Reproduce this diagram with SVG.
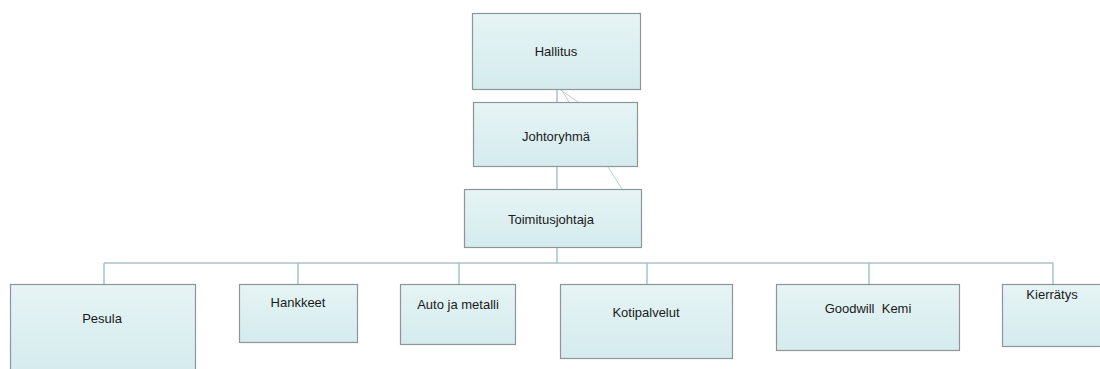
<svg xmlns="http://www.w3.org/2000/svg" width="1100" height="369" viewBox="0 0 1100 369">
<defs>
<linearGradient id="g" x1="0" y1="0" x2="0" y2="1">
<stop offset="0" stop-color="#e6f4f5"/>
<stop offset="1" stop-color="#d4ebed"/>
</linearGradient>
</defs>
<style>
.box{fill:url(#g);stroke:#8f9496;stroke-width:1.2}
.t{font-family:"Liberation Sans",Arial,sans-serif;font-size:13px;fill:#1a1a1a;text-anchor:middle}
.c{stroke:#a9c3c6;stroke-width:1.5;fill:none}
.cf{stroke:#bcd0d2;stroke-width:1;fill:none}
</style>
<rect width="1100" height="369" fill="#ffffff"/>
<g id="connectors">
<line class="c" x1="557" y1="89" x2="557" y2="102"/>
<line class="cf" x1="559" y1="89" x2="578" y2="102"/>
<line class="cf" x1="561" y1="89" x2="569" y2="102"/>
<line class="c" x1="557" y1="167" x2="557" y2="189"/>
<line class="cf" x1="608" y1="167" x2="622" y2="189"/>
<line class="c" x1="557" y1="248" x2="557" y2="263"/>
<line class="c" x1="104" y1="263" x2="1053" y2="263"/>
<line class="c" x1="104" y1="263" x2="104" y2="284"/>
<line class="c" x1="298" y1="263" x2="298" y2="284"/>
<line class="c" x1="459" y1="263" x2="459" y2="284"/>
<line class="c" x1="647" y1="263" x2="647" y2="284"/>
<line class="c" x1="869" y1="263" x2="869" y2="284"/>
<line class="c" x1="1053" y1="263" x2="1053" y2="284"/>
</g>
<g id="hallitus">
<rect class="box" x="472.5" y="13.5" width="168" height="76"/>
<text class="t" x="556" y="56">Hallitus</text>
</g>
<g id="johtoryhma">
<rect class="box" x="473.5" y="102.5" width="164" height="64"/>
<text class="t" x="556" y="141">Johtoryhmä</text>
</g>
<g id="toimitusjohtaja">
<rect class="box" x="464.5" y="189.5" width="177" height="58"/>
<text class="t" x="551" y="224">Toimitusjohtaja</text>
</g>
<g id="pesula">
<rect class="box" x="10.5" y="284.5" width="185" height="90"/>
<text class="t" x="102" y="323">Pesula</text>
</g>
<g id="hankkeet">
<rect class="box" x="239.5" y="284.5" width="118" height="58"/>
<text class="t" x="298" y="307">Hankkeet</text>
</g>
<g id="auto">
<rect class="box" x="400.5" y="284.5" width="115" height="60"/>
<text class="t" x="458" y="309">Auto ja metalli</text>
</g>
<g id="kotipalvelut">
<rect class="box" x="560.5" y="284.5" width="172" height="74"/>
<text class="t" x="646" y="317">Kotipalvelut</text>
</g>
<g id="goodwill">
<rect class="box" x="776.5" y="284.5" width="183" height="66"/>
<text class="t" x="868" y="313" xml:space="preserve" style="white-space:pre">Goodwill  Kemi</text>
</g>
<g id="kierratys">
<rect class="box" x="1002.5" y="284.5" width="105" height="62"/>
<text class="t" x="1052" y="299">Kierrätys</text>
</g>
</svg>
